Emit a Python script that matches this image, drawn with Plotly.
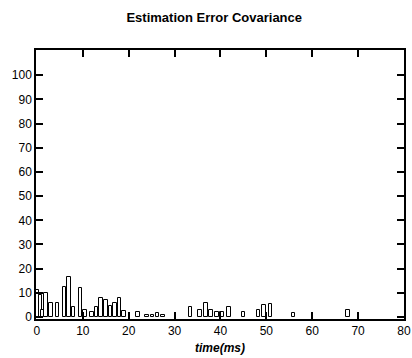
import plotly.graph_objects as go

# bar positions (time in ms) and heights
time_ms = [0.0, 0.8, 1.2, 2.0, 3.0, 4.5, 6.0, 7.0, 8.0, 9.5, 10.5, 12.0, 13.0, 14.0,
           15.0, 16.0, 17.0, 18.0, 19.0, 22.0, 24.0, 25.2, 26.3, 27.5, 33.5, 35.5,
           36.8, 37.9, 39.3, 40.3, 41.8, 45.0, 48.3, 49.5, 50.9, 55.9, 67.8]
covariance = [11, 9, 3, 10, 6, 6, 12.5, 16.5, 4, 12, 3, 2, 4, 8,
              7, 4.5, 6, 8, 2.5, 2, 1, 1, 1.5, 1, 4.3, 3,
              6, 3, 2, 2, 4, 2, 3, 5, 5.5, 1.5, 3]

x_ticks = list(range(0, 90, 10))
y_ticks = list(range(0, 110, 10))

fig = go.Figure()
fig.add_trace(go.Bar(
    x=time_ms, y=covariance, width=0.8,
    marker=dict(color="white", line=dict(color="black", width=1)),
))

axis_common = dict(
    showline=True, linecolor="black", linewidth=1.5, mirror="ticks",
    ticks="inside", ticklen=7, tickcolor="black", tickwidth=1.5,
    showgrid=False, zeroline=False, automargin=False,
    tickfont=dict(family="Liberation Sans, Arial, sans-serif", size=12, color="black"),
)

fig.update_layout(
    template="none",
    width=412, height=358,
    margin=dict(l=36, r=8, t=50, b=39),
    paper_bgcolor="white", plot_bgcolor="white",
    showlegend=False,
    bargap=0,
    barmode="overlay",
    title=dict(text="<b>Estimation Error Covariance</b>", x=0.52, xanchor="center",
               y=0.95, yanchor="middle",
               font=dict(family="Liberation Sans, Arial, sans-serif", size=13, color="black")),
    xaxis=dict(range=[-0.2, 80], tickvals=x_ticks, ticktext=[str(v) for v in x_ticks],
               title=dict(text="<b><i>time(ms)</i></b>", standoff=6,
                          font=dict(family="Liberation Sans, Arial, sans-serif", size=12, color="black")),
               **axis_common),
    yaxis=dict(range=[-0.8, 110.4], tickvals=y_ticks, ticktext=[str(v) for v in y_ticks],
               **axis_common),
)

fig.write_html("out.html")
